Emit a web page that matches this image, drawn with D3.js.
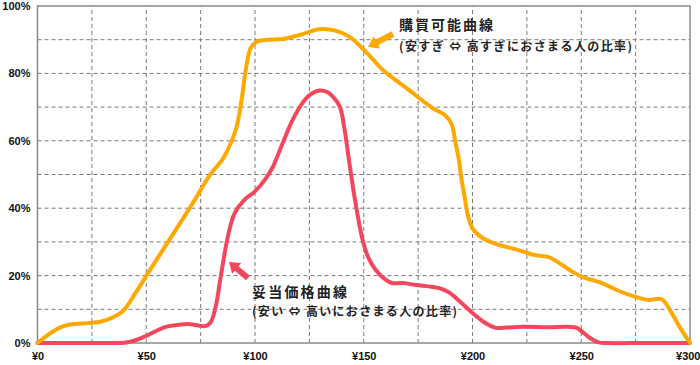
<!DOCTYPE html>
<html>
<head>
<meta charset="utf-8">
<script src="https://cdn.jsdelivr.net/npm/d3@7"></script>
<style>
  body { margin: 0; background: #fff; }
  svg text { font-family: "Liberation Sans", Arial, sans-serif; }
  .jp { font-family: "Noto Sans CJK JP", sans-serif; font-weight: bold; fill: #222; }
</style>
</head>
<body>
<svg id="chart" width="700" height="365"></svg>
<script>
// price (yen) / share (%)
var buyPrice = [0, 5, 10, 15, 23, 29, 35, 39.5, 45, 50, 60, 67, 73, 79.3, 85.4, 89.3, 91.5, 93.8, 96, 98, 101, 106,
  112.7, 120.5, 129.7, 137.3, 143.3, 149.3, 154, 158, 163, 170, 176, 182, 187.4, 190.4, 192, 193.5, 195, 196.6, 198,
  200.4, 205, 212.6, 220, 228, 235, 240, 245, 250.5, 259.5, 267, 275, 281, 287, 291.5, 295, 300];
var buyShare = [0, 2.5, 4.5, 5.5, 5.9, 6.3, 7.7, 9.6, 14.8, 19.9, 30, 37, 43.2, 49.9, 54.8, 60, 64, 72, 82, 87.5, 89.5, 90,
  90.2, 91.4, 93.1, 92.6, 90.9, 87.5, 84.3, 81.5, 78.8, 75.5, 72.4, 69.6, 67.6, 65, 60, 55.3, 48.4, 42.5, 37.5,
  33.6, 31, 29, 27.8, 26.2, 25.5, 23.7, 21.5, 19.6, 17.8, 15.5, 13.7, 12.8, 13, 9, 5, 0];

var fairPrice = [0, 20, 36, 40, 44, 49, 54, 59, 65, 70, 74, 77, 79.5, 82, 84, 87.5, 90.6, 95, 100, 104.5, 108, 112.7,
  117.3, 121.8, 125, 129.7, 133, 135.8, 139, 141.2, 143.4, 146, 149.5, 152, 155.6, 160, 163, 168, 174, 180,
  184.7, 189, 193, 200, 205, 210.7, 216, 222.7, 235, 244, 248, 250.5, 254, 258, 262, 280, 300];
var fairShare = [0, 0, 0, 0.1, 0.6, 1.8, 3.4, 4.8, 5.4, 5.6, 5.2, 5.0, 6, 11, 18.7, 31.5, 38.5, 42.4, 45, 48.4, 52, 59.3,
  66.2, 71.2, 73.5, 74.9, 74.5, 73.1, 70.1, 63.2, 53.4, 42.4, 30.5, 25.5, 21.6, 18.8, 17.8, 17.8, 17.2, 16.8,
  16.3, 15.1, 13, 8.9, 6.3, 4.5, 4.6, 4.8, 4.7, 4.8, 4.5, 3.3, 1.5, 0.2, 0, 0, 0];

var xTicks = [0, 50, 100, 150, 200, 250, 300];
var yTicks = [0, 20, 40, 60, 80, 100];
var xGrid = d3.range(25, 300, 25);
var yGrid = d3.range(10, 100, 10);

var svg = d3.select("#chart"),
  margin = {top: 6, left: 37.5, bottom: 22, right: 10},
  width = +svg.attr("width"),
  height = +svg.attr("height");

var x = d3.scaleLinear().domain([0, 300]).range([margin.left, width - margin.right]);
var y = d3.scaleLinear().domain([0, 100]).range([height - margin.bottom, margin.top]);

/* grid */
svg.append("g").selectAll("line").data(xGrid).enter().append("line")
  .attr("x1", d => x(d)).attr("x2", d => x(d))
  .attr("y1", y(0)).attr("y2", y(100))
  .attr("stroke", "#7a7a7a").attr("stroke-dasharray", "4,3");
svg.append("g").selectAll("line").data(yGrid).enter().append("line")
  .attr("x1", x(0)).attr("x2", x(300))
  .attr("y1", d => y(d)).attr("y2", d => y(d))
  .attr("stroke", "#7a7a7a").attr("stroke-dasharray", "4,3");

/* frame */
svg.append("rect")
  .attr("x", x(0)).attr("y", y(100))
  .attr("width", x(300) - x(0)).attr("height", y(0) - y(100))
  .attr("fill", "none").attr("stroke", "#8a8a8a").attr("stroke-width", 1.5);

/* axes */
var xAxis = svg.append("g")
  .attr("transform", `translate(0,${y(0)})`)
  .call(d3.axisBottom(x).tickValues(xTicks).tickSize(0).tickPadding(9).tickFormat(d => "¥" + d));
var yAxis = svg.append("g")
  .attr("transform", `translate(${x(0)},0)`)
  .call(d3.axisLeft(y).tickValues(yTicks).tickSize(0).tickPadding(7).tickFormat(d => d + "%"));
svg.selectAll(".domain").remove();
svg.selectAll(".tick text")
  .attr("font-family", "Liberation Sans, Arial, sans-serif")
  .attr("font-size", 11).attr("font-weight", "bold").attr("fill", "#111");
xAxis.selectAll(".tick:last-of-type text").attr("text-anchor", "end").attr("dx", 10);

/* lines */
var line = d3.line()
  .x(d => x(d[0])).y(d => y(d[1]))
  .curve(d3.curveCatmullRom.alpha(0.5));

var orange = "#ffa800", red = "#f3475b";

svg.append("path")
  .datum(d3.zip(fairPrice, fairShare))
  .attr("d", line)
  .attr("fill", "none").attr("stroke", red).attr("stroke-width", 4)
  .attr("stroke-linejoin", "round").attr("stroke-linecap", "round");

svg.append("path")
  .datum(d3.zip(buyPrice, buyShare))
  .attr("d", line)
  .attr("fill", "none").attr("stroke", orange).attr("stroke-width", 4)
  .attr("stroke-linejoin", "round").attr("stroke-linecap", "round");

/* annotation arrows */
function arrow(x0, y0, x1, y1, color) {
  var dx = x1 - x0, dy = y1 - y0, len = Math.sqrt(dx * dx + dy * dy);
  var ux = dx / len, uy = dy / len, px = -uy, py = ux;
  var shaft = 3, head = 7, headLen = 10;
  var bx = x1 - ux * headLen, by = y1 - uy * headLen;
  var pts = [
    [x0 + px * shaft, y0 + py * shaft],
    [bx + px * shaft, by + py * shaft],
    [bx + px * head, by + py * head],
    [x1, y1],
    [bx - px * head, by - py * head],
    [bx - px * shaft, by - py * shaft],
    [x0 - px * shaft, y0 - py * shaft]
  ];
  svg.append("path").attr("d", "M" + pts.join("L") + "Z").attr("fill", color);
}
arrow(393, 34, 368, 47, orange);
arrow(248, 278, 229, 262, red);

/* labels */
function label(tx, ty, str, size, len) {
  svg.append("text").attr("class", "jp")
    .attr("x", tx).attr("y", ty)
    .attr("font-size", size)
    .attr("textLength", len).attr("lengthAdjust", "spacing")
    .text(str);
}
label(399, 30, "購買可能曲線", 14, 94);
label(399, 51, "(安すぎ ⇔ 高すぎにおさまる人の比率)", 12, 233);
label(252, 297, "妥当価格曲線", 14, 95);
label(252, 315.5, "(安い ⇔ 高いにおさまる人の比率)", 12, 205);
</script>
</body>
</html>
